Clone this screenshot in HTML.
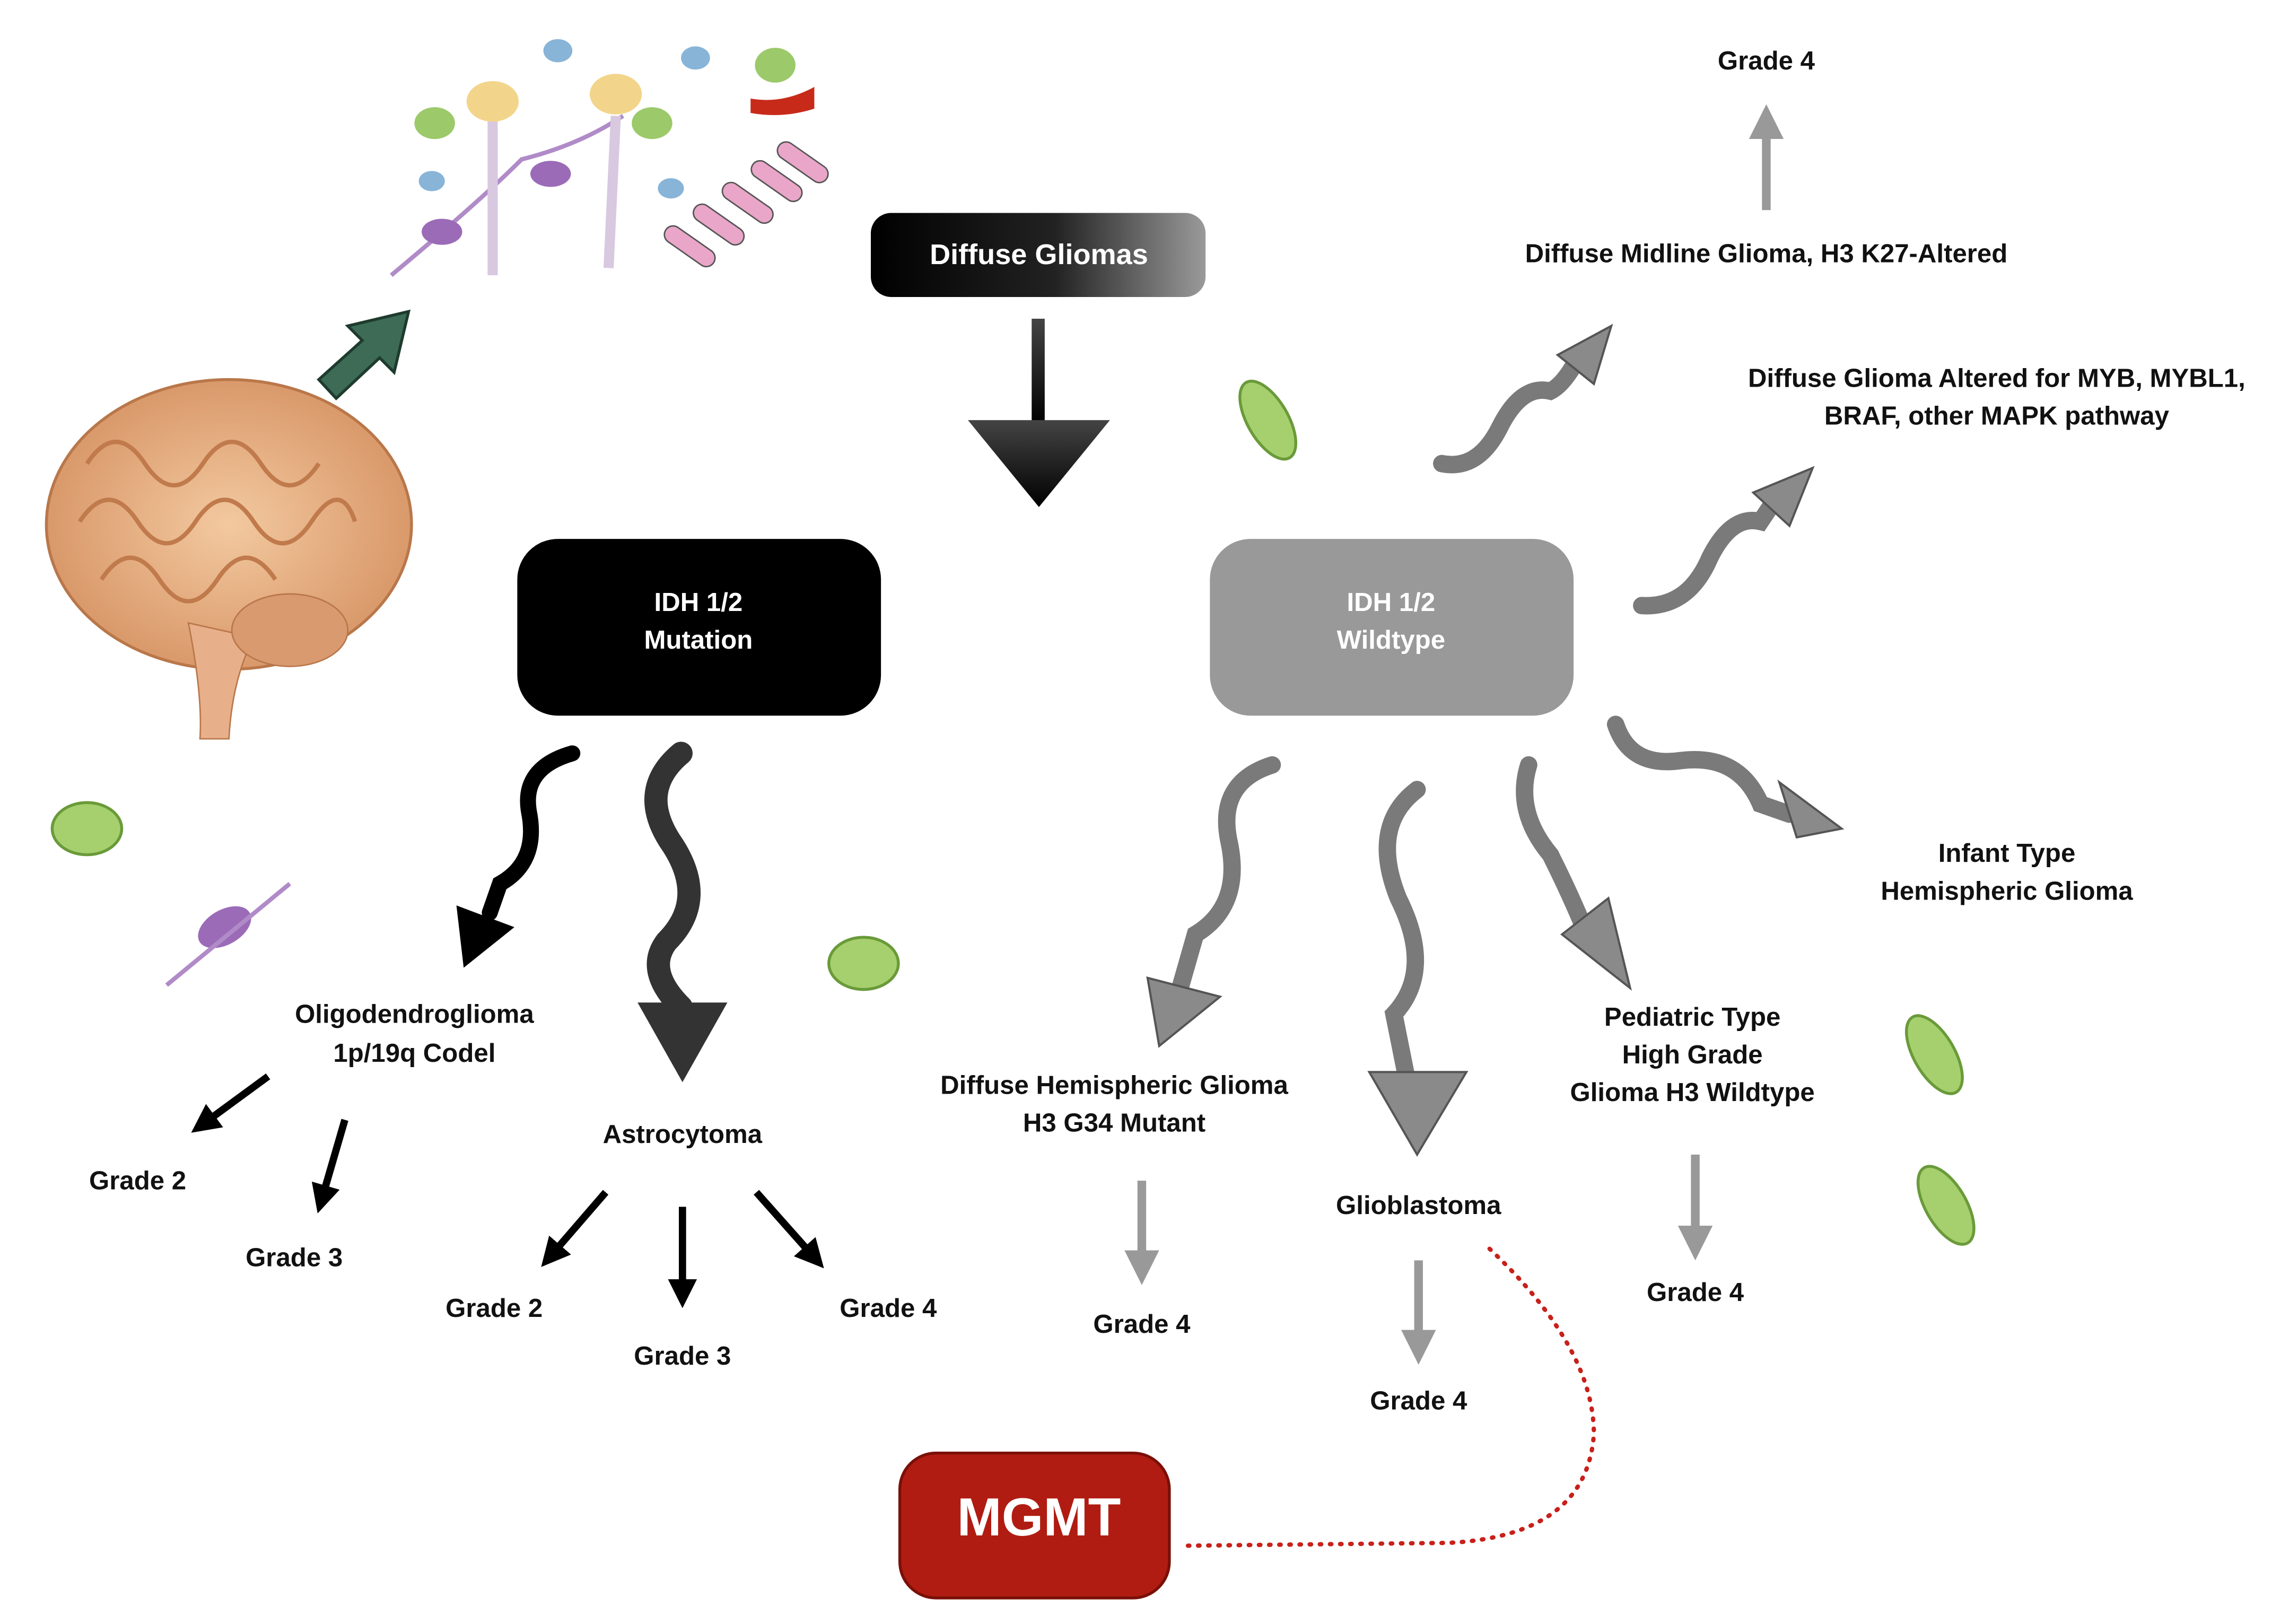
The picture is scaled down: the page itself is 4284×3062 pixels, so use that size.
<!DOCTYPE html>
<html><head><meta charset="utf-8"><style>
html,body{margin:0;padding:0;background:#fff;}
svg{display:block;}
text{font-family:"Liberation Sans",sans-serif;font-weight:bold;}
</style></head><body>
<svg width="4284" height="3062" viewBox="0 0 1568 1121" preserveAspectRatio="none" xmlns="http://www.w3.org/2000/svg">
<defs>
<linearGradient id="dg" x1="0" x2="1"><stop offset="0" stop-color="#000"/><stop offset="0.55" stop-color="#222"/><stop offset="1" stop-color="#9a9a9a"/></linearGradient>
<linearGradient id="da" x1="0" y1="0" x2="0" y2="1"><stop offset="0" stop-color="#444"/><stop offset="1" stop-color="#000"/></linearGradient>
<marker id="kb" markerWidth="4" markerHeight="4" refX="2" refY="2" orient="auto" markerUnits="strokeWidth"><path d="M0,0 L4,2 L0,4 z" fill="#000"/></marker>
<marker id="kg" markerWidth="4" markerHeight="4" refX="2" refY="2" orient="auto" markerUnits="strokeWidth"><path d="M0,0 L4,2 L0,4 z" fill="#999"/></marker>
<radialGradient id="br"><stop offset="0" stop-color="#f3c9a0"/><stop offset="1" stop-color="#d9996a"/></radialGradient>
</defs>

<!-- brain -->
<ellipse cx="158" cy="362" rx="126" ry="100" fill="url(#br)" stroke="#b9774a" stroke-width="2"/>
<path d="M130,430 Q140,480 138,510 L158,510 Q160,470 175,440 Z" fill="#e8b08a" stroke="#b9774a"/>
<ellipse cx="200" cy="435" rx="40" ry="25" fill="#d99a70" stroke="#b9774a"/>
<path d="M60,320 q20,-30 40,0 t40,0 t40,0 t40,0 M55,360 q20,-30 40,0 t40,0 t40,0 t40,0 t30,0 M70,400 q20,-30 40,0 t40,0 t40,0" fill="none" stroke="#c07a4c" stroke-width="3"/>
<polygon points="220,262 250,235 240,225 282,215 272,257 262,247 232,275" fill="#3d6b55" stroke="#1e3b2e" stroke-width="2"/>

<g stroke-width="3" fill="none">
<path d="M270,190 Q330,140 360,110 Q400,100 430,80" stroke="#b08bc8"/>
<path d="M340,80 L340,190 M425,80 L420,185" stroke="#d8c8e0" stroke-width="7"/>
</g>
<ellipse cx="340" cy="70" rx="18" ry="14" fill="#f2d58a"/>
<ellipse cx="425" cy="65" rx="18" ry="14" fill="#f2d58a"/>
<ellipse cx="300" cy="85" rx="14" ry="11" fill="#9cc96a"/>
<ellipse cx="450" cy="85" rx="14" ry="11" fill="#9cc96a"/>
<ellipse cx="380" cy="120" rx="14" ry="9" fill="#9b6bb8"/>
<ellipse cx="305" cy="160" rx="14" ry="9" fill="#9b6bb8"/>
<ellipse cx="385" cy="35" rx="10" ry="8" fill="#88b4d8"/>
<ellipse cx="480" cy="40" rx="10" ry="8" fill="#88b4d8"/>
<ellipse cx="298" cy="125" rx="9" ry="7" fill="#88b4d8"/>
<ellipse cx="463" cy="130" rx="9" ry="7" fill="#88b4d8"/>
<ellipse cx="535" cy="45" rx="14" ry="12" fill="#9cc96a"/>
<path d="M518,68 Q540,72 562,60 L562,75 Q540,82 518,78 Z" fill="#c82a1a"/>
<g fill="#e9a6c8" stroke="#555">
<rect x="470" y="150" width="12" height="40" rx="6" transform="rotate(-55 476 170)"/>
<rect x="490" y="135" width="12" height="40" rx="6" transform="rotate(-55 496 155)"/>
<rect x="510" y="120" width="12" height="40" rx="6" transform="rotate(-55 516 140)"/>
<rect x="530" y="105" width="12" height="40" rx="6" transform="rotate(-55 536 125)"/>
<rect x="548" y="92" width="12" height="40" rx="6" transform="rotate(-55 554 112)"/>
</g>
<g fill="#a6d06e" stroke="#6a9a3a" stroke-width="2">
<ellipse cx="60" cy="572" rx="24" ry="18"/>
<ellipse cx="596" cy="665" rx="24" ry="18"/>
<ellipse cx="875" cy="290" rx="14" ry="30" transform="rotate(-30 875 290)"/>
<ellipse cx="1335" cy="728" rx="14" ry="30" transform="rotate(-30 1335 728)"/>
<ellipse cx="1343" cy="832" rx="14" ry="30" transform="rotate(-30 1343 832)"/>
</g>
<ellipse cx="155" cy="640" rx="20" ry="12" fill="#9b6bb8" transform="rotate(-30 155 640)"/>
<path d="M115,680 L200,610" stroke="#b08bc8" stroke-width="3"/>

<rect x="601" y="147" width="231" height="58" rx="14" fill="url(#dg)"/>
<text x="717" y="177" fill="#fff" font-size="19.8" text-anchor="middle" dominant-baseline="middle">Diffuse Gliomas</text>
<rect x="712" y="220" width="9" height="72" fill="url(#da)"/>
<polygon points="668,290 766,290 717,350" fill="url(#da)"/>

<rect x="357" y="372" width="251" height="122" rx="28" fill="#000"/>
<text x="482" y="417" fill="#fff" font-size="18" text-anchor="middle" dominant-baseline="middle">IDH 1/2</text>
<text x="482" y="443" fill="#fff" font-size="18" text-anchor="middle" dominant-baseline="middle">Mutation</text>
<rect x="835" y="372" width="251" height="122" rx="28" fill="#999"/>
<text x="960" y="417" fill="#fff" font-size="18" text-anchor="middle" dominant-baseline="middle">IDH 1/2</text>
<text x="960" y="443" fill="#fff" font-size="18" text-anchor="middle" dominant-baseline="middle">Wildtype</text>

<path d="M395,520 Q360,530 365,560 Q372,595 345,610 L338,630" fill="none" stroke="#000" stroke-width="11" stroke-linecap="round"/>
<polygon points="315,625 355,640 320,668" fill="#000"/>
<path d="M470,520 Q440,545 462,580 Q490,620 460,650 Q445,670 470,695" fill="none" stroke="#333" stroke-width="16" stroke-linecap="round"/>
<polygon points="440,692 502,692 471,747" fill="#333"/>

<g fill="none" stroke="#7a7a7a" stroke-width="12" stroke-linecap="round">
<path d="M878,528 Q840,540 848,580 Q858,625 825,645 L815,680"/>
<path d="M978,545 Q945,570 965,620 Q990,670 962,700 L970,740"/>
<path d="M1055,528 Q1045,560 1070,590 Q1085,620 1095,645"/>
<path d="M1115,500 Q1125,530 1160,525 Q1200,520 1215,555 L1235,562"/>
<path d="M995,320 Q1020,325 1035,295 Q1050,265 1070,270 Q1080,265 1090,245"/>
<path d="M1133,418 Q1165,420 1180,385 Q1195,355 1215,360 L1225,345"/>
</g>
<g fill="#8a8a8a" stroke="#555" stroke-width="1.5">
<polygon points="792,675 842,688 800,722"/>
<polygon points="945,740 1012,740 978,797"/>
<polygon points="1078,645 1110,620 1125,682"/>
<polygon points="1228,540 1240,578 1271,572"/>
<polygon points="1075,245 1100,265 1112,225"/>
<polygon points="1210,340 1235,363 1251,323"/>
</g>

<g stroke-width="5" marker-end="url(#kb)" stroke="#000">
<line x1="185" y1="743" x2="140" y2="776"/>
<line x1="238" y1="773" x2="222" y2="828"/>
<line x1="418" y1="823" x2="380" y2="867"/>
<line x1="471" y1="833" x2="471" y2="893"/>
<line x1="522" y1="823" x2="562" y2="868"/>
</g>
<g stroke-width="6" marker-end="url(#kg)" stroke="#999">
<line x1="788" y1="815" x2="788" y2="875"/>
<line x1="979" y1="870" x2="979" y2="930"/>
<line x1="1170" y1="797" x2="1170" y2="858"/>
<line x1="1219" y1="145" x2="1219" y2="84"/>
</g>

<g font-size="18" fill="#111" text-anchor="middle">
<text x="1219" y="48">Grade 4</text>
<text x="1219" y="181">Diffuse Midline Glioma, H3 K27-Altered</text>
<text x="1378" y="267">Diffuse Glioma Altered  for MYB, MYBL1,</text>
<text x="1378" y="293">BRAF, other MAPK pathway</text>
<text x="1385" y="595">Infant Type</text>
<text x="1385" y="621">Hemispheric Glioma</text>
<text x="286" y="706">Oligodendroglioma</text>
<text x="286" y="733">1p/19q Codel</text>
<text x="95" y="821">Grade 2</text>
<text x="203" y="874">Grade 3</text>
<text x="471" y="789">Astrocytoma</text>
<text x="341" y="909">Grade 2</text>
<text x="471" y="942">Grade 3</text>
<text x="613" y="909">Grade 4</text>
<text x="769" y="755">Diffuse Hemispheric Glioma</text>
<text x="769" y="781">H3 G34 Mutant</text>
<text x="788" y="920">Grade 4</text>
<text x="979" y="838">Glioblastoma</text>
<text x="979" y="973">Grade 4</text>
<text x="1168" y="708">Pediatric Type</text>
<text x="1168" y="734">High Grade</text>
<text x="1168" y="760">Glioma H3 Wildtype</text>
<text x="1170" y="898">Grade 4</text>
</g>

<path d="M1028,862 Q1100,930 1100,990 Q1095,1060 1000,1065 L815,1067" fill="none" stroke="#c8201a" stroke-width="3" stroke-dasharray="1 6" stroke-linecap="round"/>
<rect x="621" y="1003" width="186" height="100" rx="25" fill="#b01c12" stroke="#7a1008" stroke-width="2"/>
<text x="717" y="1050" fill="#fff" font-size="37" text-anchor="middle" dominant-baseline="middle">MGMT</text>
</svg>
</body></html>
